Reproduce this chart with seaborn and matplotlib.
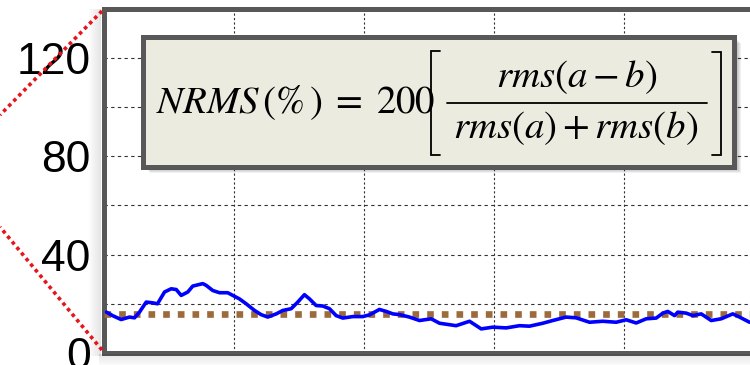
import numpy as np
import pandas as pd
import matplotlib
matplotlib.use("Agg")
import matplotlib.pyplot as plt
from matplotlib.patches import Rectangle
from matplotlib.lines import Line2D
from matplotlib.ticker import MultipleLocator
import seaborn as sns

# NRMS trace (time in grid units, NRMS in %)
time = [0.015, 0.062, 0.128, 0.192, 0.231, 0.269, 0.321, 0.369, 0.408, 0.462,
        0.513, 0.552, 0.590, 0.641, 0.679, 0.756, 0.782, 0.833, 0.885, 0.948,
        0.987, 1.038, 1.090, 1.154, 1.205, 1.256, 1.321, 1.372, 1.436, 1.487,
        1.538, 1.577, 1.628, 1.679, 1.731, 1.782, 1.833, 1.910, 1.987, 2.038,
        2.115, 2.167, 2.218, 2.269, 2.346, 2.423, 2.513, 2.577, 2.705, 2.808,
        2.898, 2.987, 3.090, 3.192, 3.269, 3.372, 3.448, 3.551, 3.628, 3.731,
        3.833, 3.936, 4.013, 4.090, 4.167, 4.244, 4.295, 4.333, 4.385, 4.410,
        4.475, 4.526, 4.590, 4.667, 4.744, 4.833, 4.885, 4.962]
nrms = [16.6, 15.2, 13.6, 14.6, 14.3, 16.6, 20.7, 20.4, 20.0, 24.8,
        26.1, 25.8, 23.4, 24.8, 27.2, 28.2, 27.5, 25.4, 24.5, 24.5,
        23.4, 22.0, 20.0, 17.3, 15.6, 14.6, 15.9, 17.3, 18.0, 20.7,
        23.7, 22.0, 19.3, 19.1, 18.0, 15.2, 14.2, 14.8, 14.8, 15.5,
        17.7, 16.9, 15.9, 15.6, 14.6, 13.2, 13.9, 12.1, 11.1, 12.9,
        9.8, 10.5, 10.2, 11.1, 10.9, 12.1, 13.2, 14.6, 14.3, 12.5,
        12.9, 12.5, 13.5, 12.2, 13.9, 14.2, 16.2, 16.9, 15.2, 16.6,
        16.2, 15.2, 15.9, 13.2, 13.9, 15.9, 14.6, 12.5]
threshold = 16.0
y_ticks = [0, 40, 80, 120]

formula_lhs = r"$NRMS\,(\%\,)\;=\;200$"
formula_num = r"$rms(a-b)$"
formula_den = r"$rms(a)+rms(b)$"

sns.set_theme(style="white")
plt.rcParams["font.family"] = ["Liberation Sans", "DejaVu Sans"]
plt.rcParams["mathtext.fontset"] = "stix"

df = pd.DataFrame({"time": time, "nrms": nrms})
ref = pd.DataFrame({"time": [0.0, 5.0], "nrms": [threshold, threshold]})

fig = plt.figure(figsize=(7.5, 3.65), dpi=100)
fig.patch.set_facecolor("white")
ax = fig.add_axes([0.1393, 0.0329, 0.8667, 0.9435])
ax.set_facecolor("white")

sns.lineplot(data=ref, x="time", y="nrms", ax=ax, color="#9c6b3c",
             linewidth=4.8, linestyle=(0, (1, 1.2)), zorder=3)
sns.lineplot(data=df, x="time", y="nrms", ax=ax, color="#0000ff",
             linewidth=2.6, zorder=4)

ax.set_xlim(0, 5)
ax.set_ylim(0, 140)
ax.xaxis.set_major_locator(MultipleLocator(1))
ax.set_yticks(y_ticks)
ax.yaxis.set_minor_locator(MultipleLocator(20))
ax.set_xticklabels([])
ax.set_xlabel("")
ax.set_ylabel("")
ax.tick_params(axis="both", which="both", length=0)
ax.tick_params(axis="y", labelsize=32, pad=10, colors="black")
ax.set_axisbelow(True)
ax.grid(axis="y", which="both", color="#333333", linewidth=0.8, linestyle=(0, (3, 3)))
ax.grid(axis="x", which="major", color="#333333", linewidth=0.8, linestyle=(0, (2, 2)))
for s in ax.spines.values():
    s.set_visible(True)
    s.set_color("#585858")
    s.set_linewidth(3.6)

W, H = 750.0, 365.0

def fx(px):
    return px / W

def fy(py):
    return 1 - py / H

# soft shadow around the plot frame
for i in range(6):
    a = 0.05
    fig.add_artist(Rectangle((fx(99 - 2 * i), fy(356)), fx(2), fy(9) - fy(356),
                             facecolor="#000000", alpha=a * (6 - i) / 3,
                             edgecolor="none", zorder=-1))
    fig.add_artist(Rectangle((fx(99), fy(356 + 2 * i)), fx(660), fy(354) - fy(356),
                             facecolor="#000000", alpha=a * (6 - i) / 3,
                             edgecolor="none", zorder=1))

# red dotted connector lines
for (x0, y0, x1, y1) in [(102, 11, 0, 115), (102, 350, 0, 227)]:
    fig.add_artist(Line2D([fx(x0), fx(x1)], [fy(y0), fy(y1)], color="#e8141c",
                          linewidth=2.6, linestyle=(0, (1, 1)), zorder=6))

# formula box with shadow
bx0, bx1, by0, by1 = 143, 734, 37, 167
for i in range(4):
    fig.add_artist(Rectangle((fx(bx0 + 4 + i), fy(by1 + 3 + i)), fx(bx1 - bx0),
                             fy(by0) - fy(by1), facecolor="#000000", alpha=0.06,
                             edgecolor="none", zorder=7))
fig.add_artist(Rectangle((fx(bx0), fy(by1)), fx(bx1 - bx0), fy(by0) - fy(by1),
                         facecolor="#ecebe0", edgecolor="#585858", linewidth=3.6,
                         zorder=8))

# formula: left-hand side, brackets, fraction
fs = 28
fig.text(fx(156), fy(113), formula_lhs, ha="left", va="baseline",
         fontsize=fs, color="black", zorder=9)
blw = 1.3
for xs, ys in [([440, 431, 431, 440], [51, 51, 155, 155]),
               ([712, 721, 721, 712], [52, 52, 155, 155])]:
    fig.add_artist(Line2D([fx(v) for v in xs], [fy(v) for v in ys], color="black",
                          linewidth=blw, zorder=9, solid_joinstyle="miter"))
fig.add_artist(Line2D([fx(447), fx(707)], [fy(103), fy(103)], color="black",
                      linewidth=blw, zorder=9))
fig.text(fx(577), fy(77), formula_num, ha="center", va="center",
         fontsize=fs, color="black", zorder=9)
fig.text(fx(576), fy(128), formula_den, ha="center", va="center",
         fontsize=fs, color="black", zorder=9)

fig.savefig("out.png", dpi=100, facecolor="white")
